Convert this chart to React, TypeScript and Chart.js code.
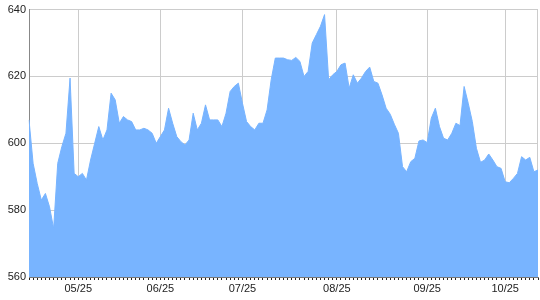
import React, { useEffect, useRef } from 'react';
import { Chart, registerables } from 'chart.js';

Chart.register(...registerables);

// Daily closing values (one per trading day)
const values: number[] = [
  607, 594, 588, 583, 585, 581, 574.5, 594, 599, 603,
  619.5, 591, 590, 591, 589, 595, 600, 605, 601, 604,
  615, 613, 606, 608, 607, 606.5, 604, 604, 604.5, 604,
  603, 600, 602, 604, 610.5, 606, 602, 600.5, 599.5, 601,
  609, 604, 606, 611.5, 607, 607, 607, 605, 609, 615.5,
  617, 618, 612, 606.5, 605, 604, 606, 606, 610, 619,
  625.5, 625.5, 625.5, 625, 624.8, 625.7, 624.5, 620, 621.5, 630,
  632.5, 635, 638.5, 619, 620.5, 621.5, 623.5, 624, 616.5, 620.5,
  618, 619.5, 621.5, 622.8, 618.5, 618, 614.5, 610.5, 608.7, 605.7,
  603, 593, 591.5, 594.5, 595.5, 600.7, 601, 600.2, 607.5, 610.5,
  605, 601.5, 601, 603, 606, 605.3, 617, 612, 606.5, 598.5,
  594.3, 595, 596.8, 595, 593, 592.5, 588.5, 588.2, 589.5, 591,
  596, 595, 595.8, 591.5, 592,
];

// Positions (day index) of month tick labels and their texts
const monthTickIndex: number[] = [12, 32, 52, 75, 97, 116];
const monthTickLabels: string[] = ['05/25', '06/25', '07/25', '08/25', '09/25', '10/25'];

const yTicks: number[] = [560, 580, 600, 620, 640];

const FILL = '#78b4ff';
const GRID = '#cccccc';

export default function App() {
  const ref = useRef<HTMLCanvasElement | null>(null);

  useEffect(() => {
    if (!ref.current) return;
    const categories = values.map((_, i) => {
      const k = monthTickIndex.indexOf(i);
      return k >= 0 ? monthTickLabels[k] : '';
    });

    const rightBorder = {
      id: 'rightBorder',
      beforeDatasetsDraw(chart: any) {
        const { ctx, chartArea } = chart;
        ctx.save();
        ctx.strokeStyle = GRID;
        ctx.lineWidth = 1;
        ctx.beginPath();
        ctx.moveTo(Math.round(chartArea.right) - 0.5, chartArea.top);
        ctx.lineTo(Math.round(chartArea.right) - 0.5, chartArea.bottom);
        ctx.stroke();
        ctx.restore();
      },
    };

    const chart = new Chart(ref.current, {
      type: 'line',
      data: {
        labels: categories,
        datasets: [
          {
            data: values,
            fill: 'start',
            backgroundColor: FILL,
            borderColor: FILL,
            borderWidth: 1,
            pointRadius: 0,
            tension: 0,
          },
        ],
      },
      options: {
        responsive: false,
        animation: false,
        events: [],
        layout: { padding: { top: 8, right: 1, left: 0, bottom: 0 } },
        plugins: { legend: { display: false }, tooltip: { enabled: false } },
        scales: {
          x: {
            type: 'category',
            afterFit: (s: any) => { s.height = 23; },
            border: { display: true, color: '#777777', width: 1 },
            grid: {
              color: (c: any) => (monthTickIndex.includes(c.index) ? GRID : 'rgba(0,0,0,0)'),
              tickColor: '#222222',
              tickLength: 3,
              drawTicks: true,
            },
            ticks: {
              autoSkip: false,
              maxRotation: 0,
              minRotation: 0,
              padding: 2,
              color: '#222222',
              font: { family: 'Liberation Sans, Arial, sans-serif', size: 11 },
              callback: (_v: any, i: number) => categories[i],
            },
          },
          y: {
            min: 560,
            max: 640,
            afterFit: (s: any) => { s.width = 29; },
            afterBuildTicks: (s: any) => { s.ticks = yTicks.map((v) => ({ value: v })); },
            border: { display: true, color: '#888888', width: 1 },
            grid: { color: GRID, drawTicks: false },
            ticks: {
              padding: 3,
              color: '#222222',
              font: { family: 'Liberation Sans, Arial, sans-serif', size: 11 },
            },
          },
        },
      },
      plugins: [rightBorder],
    });
    return () => chart.destroy();
  }, []);

  return (
    <div style={{ position: 'fixed', left: 0, top: 0, width: 540, height: 300, background: '#fff' }}>
      <canvas ref={ref} width={540} height={300} style={{ display: 'block' }} />
    </div>
  );
}
